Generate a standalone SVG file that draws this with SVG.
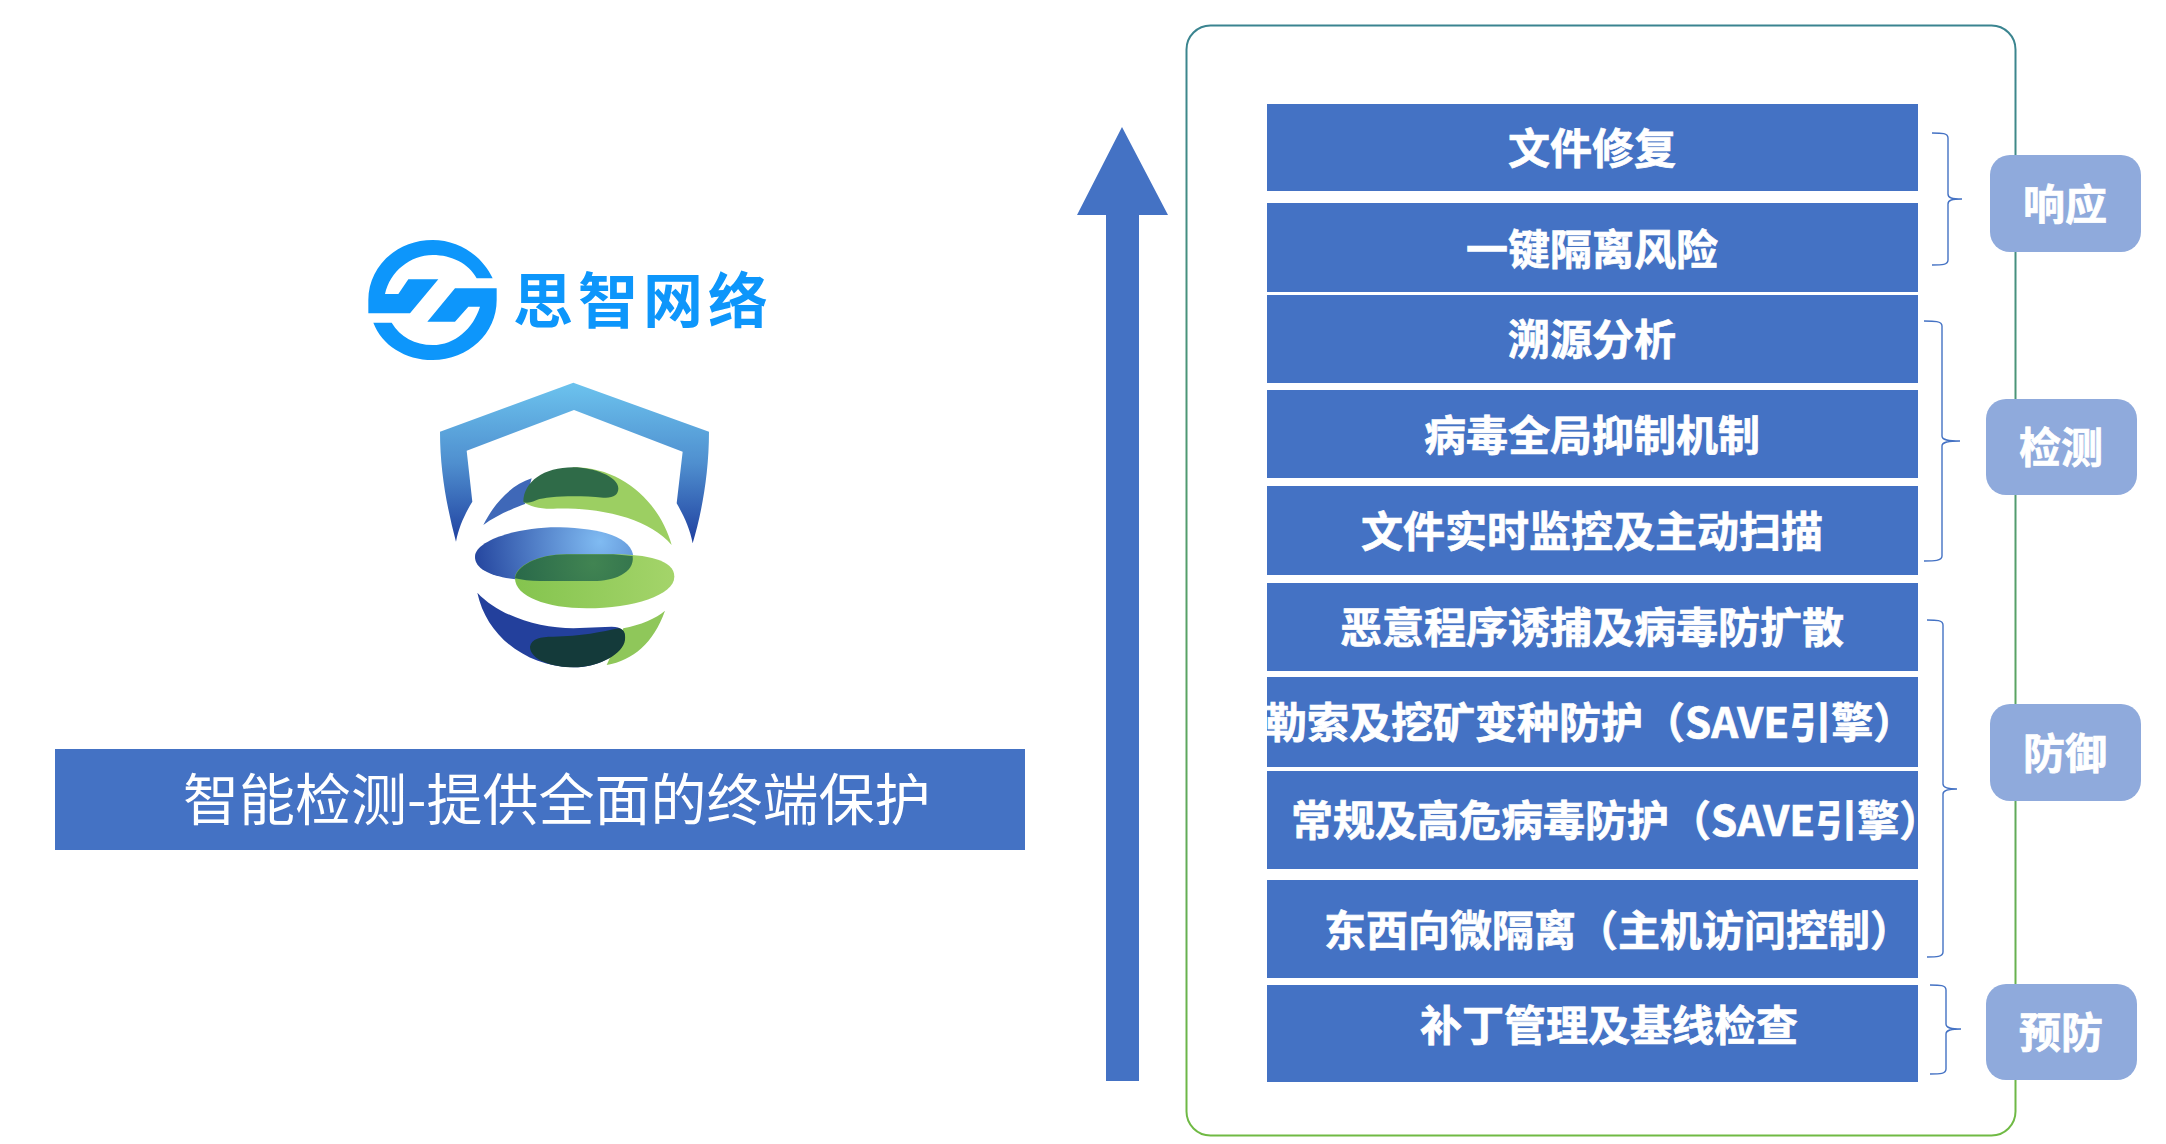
<svg xmlns="http://www.w3.org/2000/svg" width="2166" height="1144" viewBox="0 0 2166 1144">
<defs>
<linearGradient id="frameG" x1="0" y1="0" x2="0" y2="1"><stop offset="0" stop-color="#3a8490"/><stop offset="1" stop-color="#70ba44"/></linearGradient>
<linearGradient id="shieldG" x1="0" y1="0" x2="0" y2="1"><stop offset="0" stop-color="#6cc3ee"/><stop offset="0.5" stop-color="#4f8fcf"/><stop offset="1" stop-color="#1f3f9f"/></linearGradient>
<radialGradient id="midBlue" gradientUnits="userSpaceOnUse" cx="780" cy="965" r="380"><stop offset="0" stop-color="#80bbf2"/><stop offset="1" stop-color="#25469f"/></radialGradient>
<radialGradient id="midDark" gradientUnits="userSpaceOnUse" cx="760" cy="1030" r="230"><stop offset="0" stop-color="#418452"/><stop offset="1" stop-color="#2a6a4a"/></radialGradient>
<linearGradient id="midGreen" x1="0" y1="0" x2="1" y2="0"><stop offset="0" stop-color="#84c44e"/><stop offset="1" stop-color="#a4d46a"/></linearGradient>
</defs>
<style>
.bar{fill:#4472c4}
.tag{fill:#8faadc}
.t{font-family:"Noto Sans CJK SC","Noto Sans",sans-serif;font-weight:700;font-size:42px;fill:#fff;stroke:#fff;stroke-width:0.7px}
.m{text-anchor:middle}
.brace{fill:none;stroke:#4472c4;stroke-width:1.4}
</style>
<rect width="2166" height="1144" fill="#fff"/>

<g id="frame"><rect x="1186.500" y="25.500" width="829" height="1110" rx="24" fill="none" stroke="url(#frameG)" stroke-width="2"/></g>

<g id="logo-brand" transform="translate(340 220) scale(0.33333)" fill="#0d96fb">
<path d="M458,175 C425,105 355,60 278,60 C170,60 85,140 85,240 L85,280 L210,280 L295,178 L205,178 L175,222 L135,222 C150,155 210,105 278,105 C335,105 385,130 410,175 Z"/>
<path d="M470,205 L470,240 C470,340 385,420 278,420 C195,420 125,375 100,308 L155,308 C180,350 225,375 278,375 C345,375 400,325 420,260 L385,260 L345,305 L262,305 L345,205 Z"/>
</g>
<text id="brand-name" x="513" y="323" font-family="'Noto Sans CJK SC',sans-serif" font-weight="700" font-size="60" letter-spacing="5" fill="#0d96fb">思智网络</text>

<g id="logo-shield" transform="translate(340 220) scale(0.33333)">
<path fill="url(#shieldG)" d="M300,635 L700,488 L1107,635 C1107,760 1085,880 1058,970 C1050,925 1030,885 1010,850 L1028,695 L702,570 L380,692 L397,845 C375,880 355,925 348,965 C320,860 300,750 300,635 Z"/>
<path fill="#3f68b8" d="M430,915 C465,845 515,795 575,775 L555,852 C520,865 470,885 430,915 Z"/>
<path fill="#9ccf62" d="M700,742 C850,742 960,850 995,975 C930,900 800,862 640,866 C600,867 570,860 550,845 Z"/>
<path fill="#2f6b48" d="M550,845 C552,785 610,742 700,742 C760,742 835,770 835,805 C835,825 820,835 790,833 C700,825 620,830 590,840 C570,850 555,850 550,845 Z"/>
<path fill="url(#midBlue)" d="M405,1010 C405,960 540,920 660,922 C780,925 880,950 880,1015 C880,1060 820,1083 760,1083 L600,1083 C490,1080 405,1060 405,1010 Z"/>
<path fill="url(#midGreen)" d="M525,1075 C525,1040 590,1003 680,1003 L820,1003 C920,1003 1003,1020 1003,1070 C1003,1125 880,1165 740,1165 C620,1165 525,1130 525,1075 Z"/>
<path fill="url(#midDark)" d="M525,1075 C528,1040 590,1003 680,1003 L820,1003 L878,1008 C885,1060 820,1083 760,1083 L600,1083 C570,1083 545,1080 525,1075 Z"/>
<path fill="#8fc75a" d="M850,1225 C900,1215 950,1195 975,1172 C940,1270 880,1320 800,1335 Z"/>
<path fill="#23409c" d="M412,1118 C480,1190 600,1225 700,1225 L815,1220 C845,1220 855,1235 855,1250 C840,1310 770,1342 700,1342 C560,1340 440,1250 412,1118 Z"/>
<path fill="#143a3a" d="M570,1280 C575,1255 600,1250 640,1250 C720,1250 790,1235 835,1225 C850,1225 858,1240 855,1260 C850,1300 780,1342 700,1342 C640,1342 570,1320 570,1280 Z"/>
</g>

<g id="banner"><rect class="bar" x="55" y="749" width="970" height="101"/>
<text x="183" y="820" font-family="'Noto Sans CJK SC',sans-serif" font-size="56" fill="#fff">智能检测-提供全面的终端保护</text></g>

<g id="arrow"><path class="bar" d="M1122,127 L1168,215 L1139,215 L1139,1081 L1106,1081 L1106,215 L1077,215 Z"/></g>

<g id="row-1"><rect class="bar" x="1267" y="104" width="651" height="87"/><text class="t m" x="1592" y="164">文件修复</text></g>
<g id="row-2"><rect class="bar" x="1267" y="203" width="651" height="89"/><text class="t m" x="1592" y="265">一键隔离风险</text></g>
<g id="row-3"><rect class="bar" x="1267" y="295" width="651" height="88"/><text class="t m" x="1592" y="355">溯源分析</text></g>
<g id="row-4"><rect class="bar" x="1267" y="390" width="651" height="88"/><text class="t m" x="1592" y="451">病毒全局抑制机制</text></g>
<g id="row-5"><rect class="bar" x="1267" y="486" width="651" height="89"/><text class="t m" x="1592" y="547">文件实时监控及主动扫描</text></g>
<g id="row-6"><rect class="bar" x="1267" y="583" width="651" height="88"/><text class="t m" x="1592" y="643">恶意程序诱捕及病毒防扩散</text></g>
<g id="row-7"><rect class="bar" x="1267" y="677" width="651" height="90"/><text class="t" x="1265" y="738">勒索及挖矿变种防护（SAVE引擎）</text></g>
<g id="row-8"><rect class="bar" x="1267" y="771" width="651" height="98"/><text class="t" x="1291" y="836">常规及高危病毒防护（SAVE引擎）</text></g>
<g id="row-9"><rect class="bar" x="1267" y="880" width="651" height="98"/><text class="t" x="1324" y="946">东西向微隔离（主机访问控制）</text></g>
<g id="row-10"><rect class="bar" x="1267" y="985" width="651" height="97"/><text class="t m" x="1609" y="1041">补丁管理及基线检查</text></g>

<g id="connectors">
<path class="brace" d="M1932,133 C1942,133 1948,133 1948,138 L1948,194 C1948,198 1952,199 1962,199 C1952,199 1948,200 1948,204 L1948,260 C1948,265 1942,265 1932,265"/>
<path class="brace" d="M1924,321 C1934,321 1942,321 1942,326 L1942,436 C1942,440 1948,441 1960,441 C1948,441 1942,442 1942,446 L1942,556 C1942,561 1934,561 1924,561"/>
<path class="brace" d="M1927,620 C1936,620 1943,620 1943,625 L1943,784 C1943,788 1948,789 1957,789 C1948,789 1943,790 1943,794 L1943,952 C1943,957 1936,957 1927,957"/>
<path class="brace" d="M1930,985 C1940,985 1946,985 1946,990 L1946,1024 C1946,1028 1951,1029 1961,1029 C1951,1029 1946,1030 1946,1034 L1946,1069 C1946,1074 1940,1074 1930,1074"/>
</g>

<g id="tag-response"><rect class="tag" x="1990" y="155" width="151" height="97" rx="20"/><text class="t m" x="2065" y="220">响应</text></g>
<g id="tag-detect"><rect class="tag" x="1986" y="399" width="151" height="96" rx="20"/><text class="t m" x="2061" y="463">检测</text></g>
<g id="tag-defend"><rect class="tag" x="1990" y="704" width="151" height="97" rx="20"/><text class="t m" x="2065" y="769">防御</text></g>
<g id="tag-prevent"><rect class="tag" x="1986" y="984" width="151" height="96" rx="20"/><text class="t m" x="2061" y="1048">预防</text></g>
</svg>
